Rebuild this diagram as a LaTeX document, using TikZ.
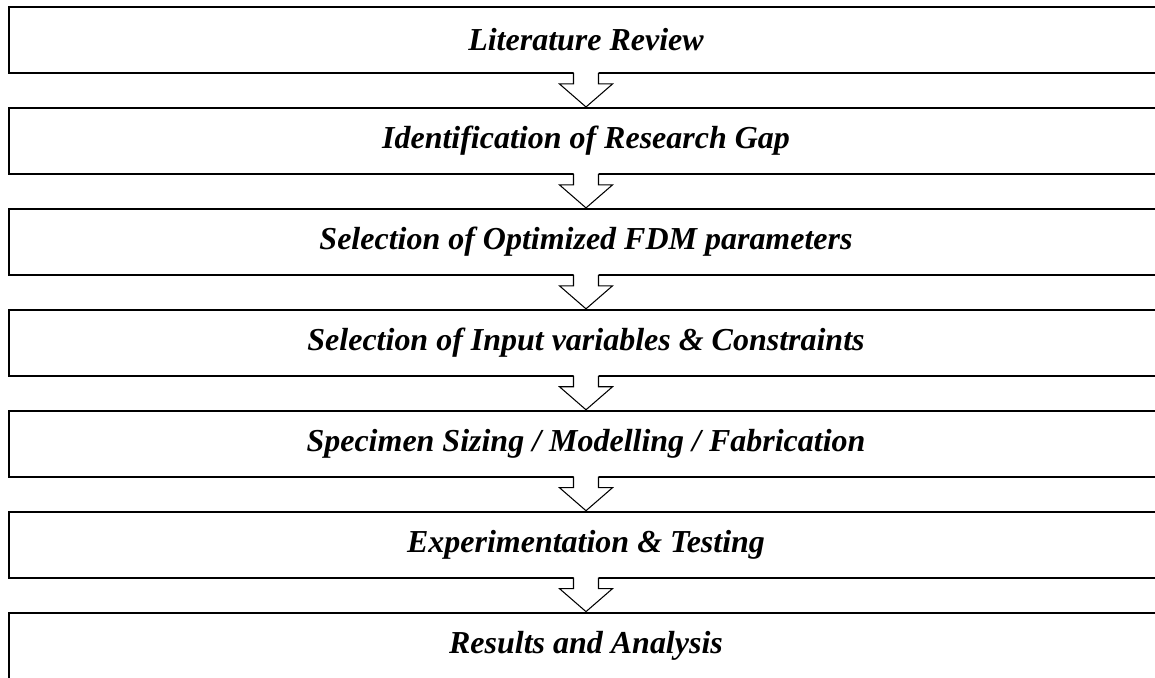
\documentclass[tikz,border=0pt]{standalone}
\usepackage{fontspec}
\setmainfont{Liberation Serif}
\usetikzlibrary{positioning,calc}

\tikzset{
  stagebox/.style={draw, line width=1.1pt, minimum width=23.08cm, minimum height=1.32cm,
    inner sep=0pt, font=\bfseries\itshape\fontsize{18.2}{22}\selectfont},
  gaparrow/.style={draw, line width=0.6pt, line join=miter}
}

\begin{document}
\begin{tikzpicture}[node distance=0.66cm]
  \useasboundingbox (0,0) rectangle (23.1,-13.54);
  \clip (0,0) rectangle (23.1,-13.54);

  \node[stagebox] (S1) at (11.72,-0.8) {Literature Review};
  \node[stagebox, below=of S1] (S2) {Identification of Research Gap};
  \node[stagebox, below=of S2] (S3) {Selection of Optimized FDM parameters};
  \node[stagebox, below=of S3] (S4) {Selection of Input variables \& Constraints};
  \node[stagebox, below=of S4] (S5) {Specimen Sizing / Modelling / Fabrication};
  \node[stagebox, below=of S5] (S6) {Experimentation \& Testing};
  \node[stagebox, below=of S6] (S7) {Results and Analysis};

  % hollow arrows, open where they leave the box above
  \foreach \a/\b in {S1/S2, S2/S3, S3/S4, S4/S5, S5/S6, S6/S7} {
    \fill[white] ($(\a.south)+(-0.25,0.05)$) -- ++(0,-0.25) -- ++(-0.28,0)
      -- (\b.north) -- ++(0.53,0.54) -- ++(-0.28,0) -- ++(0,0.25) -- cycle;
    \path[gaparrow] ($(\a.south)+(-0.25,0.02)$) -- ++(0,-0.22) -- ++(-0.28,0)
      -- (\b.north) -- ($(\a.south)+(0.53,-0.2)$) -- ++(-0.28,0) -- ++(0,0.22);
  }
\end{tikzpicture}
\end{document}
